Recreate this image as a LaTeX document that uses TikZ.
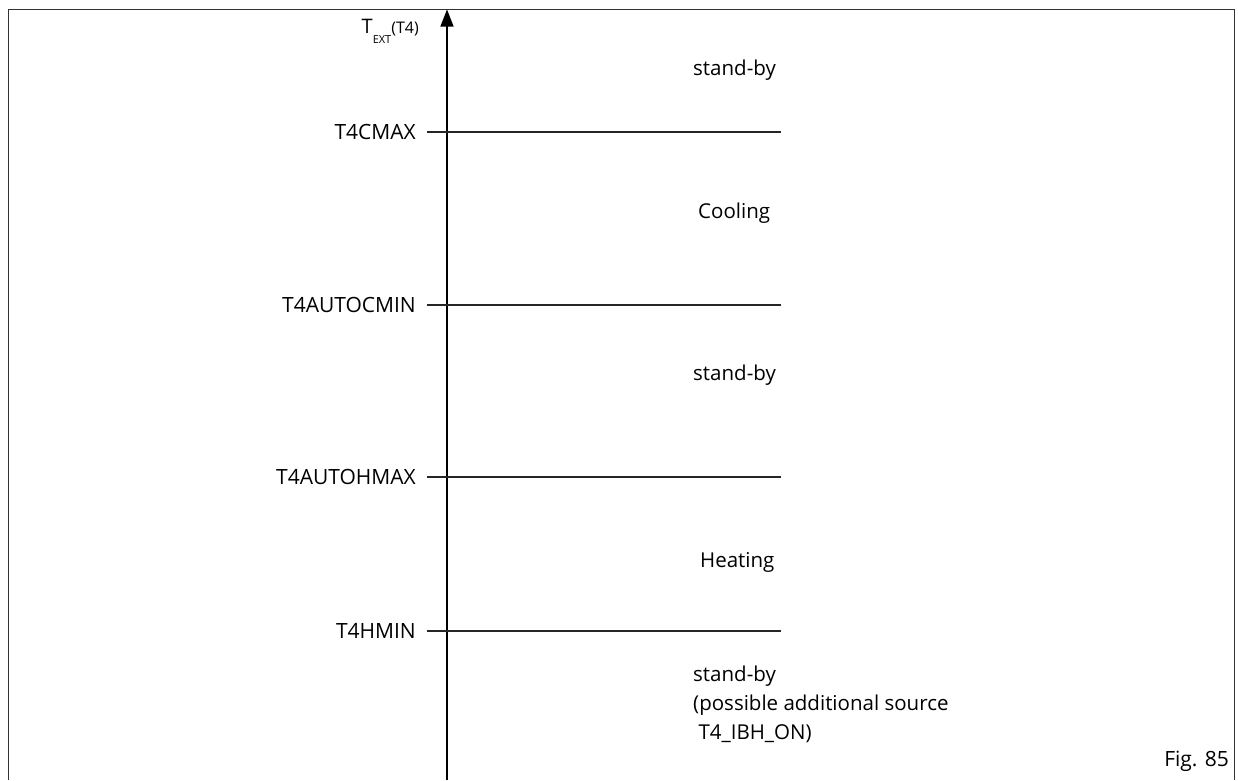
\documentclass[tikz,border=0pt]{standalone}
\usepackage{fontspec}
\setmainfont{Open Sans}
\usetikzlibrary{arrows.meta}
\begin{document}
\begin{tikzpicture}[x=1pt,y=-1pt,
  lvl/.style={anchor=east,font=\fontsize{21}{24}\selectfont,inner sep=0pt},
  zone/.style={anchor=west,font=\fontsize{20.5}{24}\selectfont,inner sep=0pt,align=left},
  thr/.style={line width=1.3pt,draw=black!85},
  frm/.style={line width=1.6pt,draw=black!80}]
\useasboundingbox (0,0) rectangle (1238,780);
% frame (open at bottom)
\draw[frm] (8.5,780) -- (8.5,9.5) -- (1234.5,9.5) -- (1234.5,780);
% axis
\coordinate (axb) at (447,780);
\coordinate (axt) at (447,9.5);
\draw[line width=1.4pt,-{Triangle[width=13pt,length=17pt]}] (axb) -- (axt);
% axis label
\node[anchor=base east,inner sep=0pt] (tl) at (419,33)
  {\fontsize{20}{22}\selectfont T\raisebox{-10pt}{\fontsize{11}{12}\selectfont EXT}\fontsize{16}{18}\selectfont(T4)};
% thresholds
\foreach \n/\y/\t in {a/132/T4CMAX,b/305/T4AUTOCMIN,c/477/T4AUTOHMAX,d/631/T4HMIN}{
  \coordinate (l\n) at (427,\y);
  \coordinate (r\n) at (781,\y);
  \draw[thr] (l\n) -- (r\n);
  \node[lvl] (t\n) at (416,\y) {\t};
}
% zones
\node[zone] (z1) at (693,70) {stand-by};
\node[zone] (z2) at (698,213) {Cooling};
\node[zone] (z3) at (693,375) {stand-by};
\node[zone] (z4) at (700,562) {Heating};
\node[zone,anchor=north west,font=\fontsize{20.5}{29}\selectfont] (z5) at (693,666)
  {stand-by\\(possible additional source\\\ T4\_IBH\_ON)};
\node[anchor=east,inner sep=0pt,font=\fontsize{21}{24}\selectfont] (fig) at (1229,761) {Fig. 85};
\end{tikzpicture}
\end{document}
